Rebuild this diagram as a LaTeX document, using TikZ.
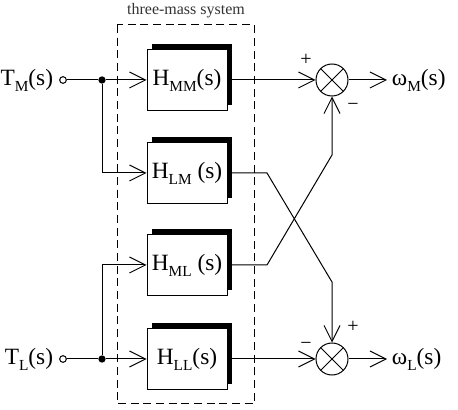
\documentclass[tikz,border=0pt]{standalone}
\usepackage{fontspec}
\setmainfont{Liberation Serif}
\usetikzlibrary{arrows.meta,shadows}
\newcommand{\lowsub}[1]{\raisebox{-0.55ex}{\fontsize{11.5}{12}\selectfont #1}}

\begin{document}
\begin{tikzpicture}[x=0.75pt, y=-0.75pt, line width=0.75pt,
        >={Straight Barb[length=12pt,width=12pt]},
        every node/.style={font=\fontsize{17.5}{20}\selectfont},
        block/.style={draw, fill=white, minimum width=60pt, minimum height=45.75pt, inner sep=0pt,
            drop shadow={shadow xshift=3.75pt, shadow yshift=3.75pt, fill=black, opacity=1}},
        sum/.style={draw, circle, minimum size=24pt, inner sep=0pt,
            path picture={\draw (path picture bounding box.north west)--(path picture bounding box.south east)
                (path picture bounding box.north east)--(path picture bounding box.south west);}},
        port/.style={draw, circle, fill=white, minimum size=5pt, inner sep=0pt},
        dot/.style={circle, fill=black, minimum size=5.5pt, inner sep=0pt},
        sign/.style={font=\fontsize{15}{17}\selectfont, inner sep=0pt}]
        \useasboundingbox (0,0) rectangle (458,410);
        % system box
        \draw[dashed, dash pattern=on 6pt off 3.5pt] (117,25) rectangle (254,404);
        \node[font=\fontsize{12}{14}\selectfont, text=black!80] (title) at (186,11) {three-mass system};
        % inputs
        \node[anchor=east] (tmlab) at (58,80) {T\lowsub{M}(s)};
        \node[anchor=east] (tllab) at (58,359) {T\lowsub{L}(s)};
        \node[port] (tm) at (63,80) {};
        \node[port] (tl) at (63,359) {};
        \node[dot] (jm) at (102,80) {};
        \node[dot] (jl) at (102,359) {};
        % transfer functions
        \node[block] (hmm) at (187,80) {H\lowsub{MM}(s)};
        \node[block] (hlm) at (187,173) {H\lowsub{LM} (s)};
        \node[block] (hml) at (187,265) {H\lowsub{ML} (s)};
        \node[block] (hll) at (187,359) {H\lowsub{LL}(s)};
        % summing points
        \node[sum] (sm) at (332,80) {};
        \node[sum] (sl) at (332,359) {};
        \node[anchor=west] (wm) at (387,80) {ω\lowsub{M}(s)};
        \node[anchor=west] (wl) at (387,359) {ω\lowsub{L}(s)};
        \node[sign] at (306,60) {+};
        \node[sign] at (353,107) {\textminus};
        \node[sign] at (353,327) {+};
        \node[sign] at (306,346) {\textminus};
        % connections
        \draw (tm) -- (jm); \draw (tl) -- (jl);
        \draw[->] (jm) -- (hmm); \draw[->] (jm) |- (hlm);
        \draw[->] (jl) -- (hll); \draw[->] (jl) |- (hml);
        \draw[->] (hmm) -- (sm); \draw[->] (hll) -- (sl);
        \draw[->] (hlm.east) -- (267,173) -- (332,282) -- (sl);
        \draw[->] (hml.east) -- (267,265) -- (332,155) -- (sm);
        \draw[->] (sm) -- (wm); \draw[->] (sl) -- (wl);
    \end{tikzpicture}
\end{document}
